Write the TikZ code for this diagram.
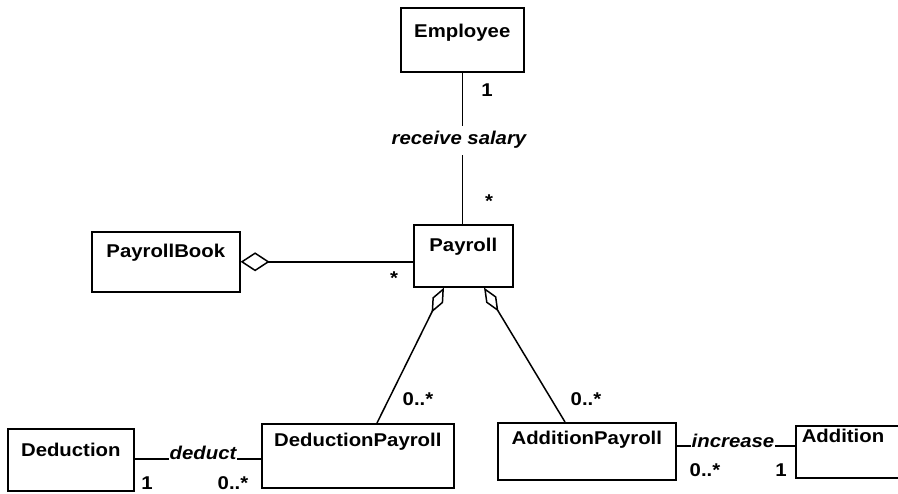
\documentclass[tikz,border=0pt]{standalone}
\usepackage{fontspec}
\setmainfont{Liberation Sans}[FakeStretch=1.1]
\usetikzlibrary{arrows.meta}
\begin{document}
\begin{tikzpicture}[x=1pt,y=-1pt,
  every node/.style={font=\fontsize{18.5}{20}\selectfont\bfseries},
  cls/.style={draw, line width=1.6pt, inner sep=0pt, anchor=north west},
  lbl/.style={anchor=base, inner sep=0pt},
  assoc/.style={font=\fontsize{18.5}{20}\selectfont\bfseries\itshape, fill=white, anchor=base, inner xsep=1pt, inner ysep=2pt},
  conn/.style={line width=1.5pt},
  agg/.style={conn, {Diamond[open,length=28pt,width=12pt,line width=1.5pt]}-},
  aggbook/.style={conn, {Diamond[open,length=29pt,width=19pt,line width=1.5pt]}-}
]
\useasboundingbox (0,0) rectangle (898,494);

% classes
\node[cls, minimum width=123pt, text height=30pt, text depth=34pt] (emp) at (400,7) {Employee};
\node[cls, minimum width=99pt, text height=27pt, text depth=35pt] (pay) at (413,224) {Payroll};
\node[cls, minimum width=148pt, text height=26pt, text depth=34pt] (pb) at (91,231) {PayrollBook};
\node[cls, minimum width=126pt, text height=28pt, text depth=34pt] (ded) at (7,428) {Deduction};
\node[cls, minimum width=192pt, text height=23pt, text depth=41pt] (dp) at (261,423) {DeductionPayroll};
\node[cls, minimum width=178pt, text height=22pt, text depth=35pt] (ap) at (497,422) {AdditionPayroll};
\node[cls, minimum width=120pt, text height=18pt, text depth=34pt] (add) at (795,425) {};
\node[lbl] (addt) at (843,443) {Addition};

% connectors
\draw[conn] (emp.south) -- (emp.south |- pay.north);
\draw[aggbook] (pb.east) -- (pb.east -| pay.west);
\draw[agg] ([xshift=31pt]pay.south west) -- ([xshift=116pt]dp.north west);
\draw[agg] ([xshift=71pt]pay.south west) -- ([xshift=68pt]ap.north west);
\draw[conn] ([yshift=1pt]ded.east) -- ([yshift=1pt]ded.east -| dp.west);
\draw[conn] ([yshift=5.5pt]ap.east) -- ([yshift=5.5pt]ap.east -| add.west);

% association names
\node[assoc, inner xsep=2pt, inner ysep=6pt] (rs) at (459,145) {receive salary};
\node[assoc] (dd) at (203,460) {deduct};
\node[assoc] (inc) at (733,448) {increase};

% multiplicities
\node[lbl] (m1) at (487,97) {1};
\node[lbl] (m2) at (489,208) {*};
\node[lbl] (m3) at (394,285) {*};
\node[lbl] (m4) at (418,406) {0..*};
\node[lbl] (m5) at (586,406) {0..*};
\node[lbl] (m6) at (147,490) {1};
\node[lbl] (m7) at (233,490) {0..*};
\node[lbl] (m8) at (705,477) {0..*};
\node[lbl] (m9) at (781,477) {1};
\end{tikzpicture}
\end{document}
